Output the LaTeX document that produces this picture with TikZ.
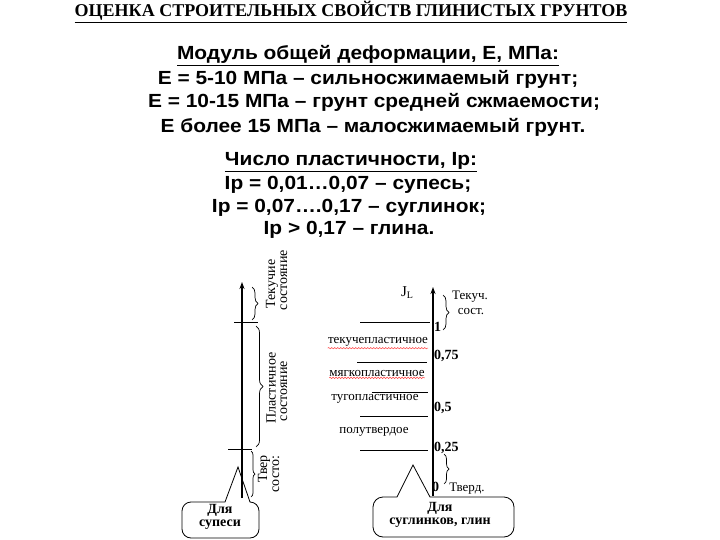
\documentclass[tikz,border=0pt]{standalone}
\usepackage{fontspec}
\setmainfont{Liberation Serif}
\setsansfont{Liberation Sans}
\newfontfamily\headsans[FakeStretch=1.1]{Liberation Sans}
\usepackage{tikz}
\usetikzlibrary{arrows.meta,positioning,decorations.pathreplacing,decorations.pathmorphing}

\begin{document}
\begin{tikzpicture}[
  x=1pt, y=-1pt,
  >=Stealth,
  heading/.style={font=\headsans\bfseries\fontsize{19}{21}\selectfont, inner sep=0pt, anchor=base},
  statelabel/.style={font=\fontsize{14}{16}\selectfont, rotate=90, inner sep=0pt},
  zonelabel/.style={font=\fontsize{13}{15}\selectfont, inner sep=0pt},
  numlabel/.style={font=\bfseries\fontsize{14}{16}\selectfont, inner sep=0pt, anchor=west},
  calltext/.style={font=\bfseries\fontsize{14}{12.5}\selectfont, align=center, inner sep=0pt},
  callbox/.style={draw, line width=0.8pt},
  axisline/.style={line width=1.6pt, -{Stealth[length=7pt,width=5pt]}},
  tickline/.style={line width=0.7pt},
  statebrace/.style={decorate, decoration={brace, amplitude=#1}, line width=0.7pt},
  spellmark/.style={red!75, line width=0.5pt, decorate, decoration={snake, amplitude=0.7pt, segment length=3pt}}
]
  \useasboundingbox (0,0) rectangle (720,540);

  % Title
  \node[font=\bfseries\fontsize{18}{21}\selectfont, inner sep=0pt] (title) at (351,12) {\underline{ОЦЕНКА СТРОИТЕЛЬНЫХ СВОЙСТВ ГЛИНИСТЫХ ГРУНТОВ}};

  % Modulus of deformation
  \node[heading] (modhead) at (368,60) {\underline{Модуль общей деформации, Е, МПа:}};
  \node[heading] (modA) at (368,85) {Е = 5-10 МПа – сильносжимаемый грунт;};
  \node[heading] (modB) at (374,108) {Е = 10-15 МПа – грунт средней сжмаемости;};
  \node[heading] (modC) at (373,133) {Е более 15 МПа – малосжимаемый грунт.};

  % Plasticity number
  \node[heading] (iphead) at (351,166) {\underline{Число пластичности, Ip:}};
  \node[heading] (ipA) at (348,190) {Ip = 0,01…0,07 – супесь;};
  \node[heading] (ipB) at (349,212) {Ip = 0,07….0,17 – суглинок;};
  \node[heading] (ipC) at (349,235) {Ip > 0,17 – глина.};

  % Left scale (sandy loam)
  \coordinate (sBot) at (242,498);
  \coordinate (sTop) at (242,282);
  \draw[axisline] (sBot) -- (sTop);
  \draw[tickline] (234,322) -- (258,322);
  \draw[tickline] (228,449) -- (252,449);
  \draw[statebrace=6pt] (252,287) -- (252,320);
  \draw[statebrace=7pt] (256,326) -- (256,447);
  \draw[statebrace=4pt] (251,451) -- (251,497);
  \node[statelabel] (liqA) at (272,284) {Текучие};
  \node[statelabel] (liqB) at (284,280) {состояние};
  \node[statelabel] (plA) at (271,388) {Пластичное};
  \node[statelabel] (plB) at (284,391) {состояние};
  \node[statelabel] (solA) at (264,469) {Твер};
  \node[statelabel] (solB) at (276,474) {состо:};

  % Callout for sandy loam
  \node[calltext] (supes) at (220,517) {Для\\супеси};
  \draw[callbox] (250,502) [rounded corners=9pt] -- (259,502) -- (259,538) -- (182,538) -- (182,502) [sharp corners] -- (225,502) -- (238,467) -- cycle;

  % Right scale (loams, clays)
  \coordinate (jBot) at (433,496);
  \coordinate (jTop) at (433,287);
  \draw[axisline] (jBot) -- (jTop);
  \node[font=\fontsize{15}{16}\selectfont, inner sep=0pt] (jl) at (407,293) {J\raisebox{-2pt}{\fontsize{10}{10}\selectfont L}};
  \draw[tickline] (360,322) -- (430,322);
  \draw[tickline] (357,362) -- (427,362);
  \draw[tickline] (372,392) -- (428,392);
  \draw[tickline] (360,416) -- (428,416);
  \draw[tickline] (360,450) -- (428,450);
  \node[numlabel] (nOne) at (434,327) {1};
  \node[numlabel] (nSeven) at (434,356) {0,75};
  \node[numlabel] (nHalf) at (434,408) {0,5};
  \node[numlabel] (nQuart) at (434,448) {0,25};
  \node[numlabel] (nZero) at (432,487) {0};

  % Consistency zones
  \node[zonelabel] (flowpl) at (378,342) {текучепластичное};
  \node[zonelabel] (softpl) at (377,373) {мягкопластичное};
  \node[zonelabel] (stiffpl) at (375,399) {тугопластичное};
  \node[zonelabel] (semisol) at (374,432) {полутвердое};
  \draw[spellmark] ([yshift=-1.5pt]flowpl.south west) -- ([yshift=-1.5pt]flowpl.south east);
  \draw[spellmark] ([yshift=-1.5pt]softpl.south west) -- ([yshift=-1.5pt]softpl.south east);

  \draw[statebrace=6pt] (443,295) -- (443,330);
  \draw[statebrace=5pt] (444,454) -- (444,484);
  \node[zonelabel] (liqR) at (470,297) {Текуч.};
  \node[zonelabel] (liqRb) at (471,312) {сост.};
  \node[zonelabel] (solR) at (467,489) {Тверд.};

  % Callout for loams and clays
  \node[calltext] (clays) at (440,515) {Для\\суглинков, глин};
  \draw[callbox] (430,497) [rounded corners=10pt] -- (514,497) -- (514,537) -- (373,537) -- (373,497) [sharp corners] -- (397,497) -- (413,465) -- cycle;

\end{tikzpicture}
\end{document}
